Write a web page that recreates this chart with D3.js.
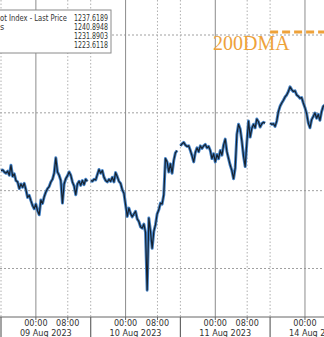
<!DOCTYPE html>
<html>
<head>
<meta charset="utf-8">
<script src="https://cdn.jsdelivr.net/npm/d3@7"></script>
<style>
  body { margin: 0; background: #fff; }
  svg { display: block; }
</style>
</head>
<body>
<svg id="chart"></svg>
<script>
// sessions (open -> close), prices sampled every 25 minutes from the open
const sessionOpens  = ["2023-08-08 15:15", "2023-08-09 15:15", "2023-08-10 15:15", "2023-08-13 15:15"];
const sessionCloses = ["2023-08-09 13:45", "2023-08-10 13:45", "2023-08-11 13:45", "2023-08-14 13:45"];
const stepMinutes = 25;

const pricesAug09 = [1231.29, 1231.33, 1231.20, 1231.12, 1231.25, 1230.99, 1231.63, 1230.92, 1231.08, 1230.65,
  1230.56, 1230.13, 1230.43, 1230.22, 1230.47, 1230.06, 1229.57, 1229.70, 1229.36, 1229.05,
  1228.84, 1229.14, 1228.71, 1228.45, 1229.40, 1229.18, 1229.61, 1229.91, 1230.13, 1230.26,
  1230.56, 1230.73, 1231.12, 1232.11, 1231.20, 1230.99, 1230.65, 1229.20, 1230.43, 1230.77,
  1230.95, 1231.20, 1230.99, 1230.56, 1230.30, 1229.74, 1230.43, 1230.60, 1230.34, 1230.65,
  1230.39, 1230.73, 1230.60];
const pricesAug10 = [1230.65, 1230.60, 1230.73, 1230.69, 1231.03, 1231.36, 1231.12, 1231.29, 1230.86, 1230.65,
  1230.56, 1230.73, 1230.60, 1230.86, 1230.56, 1231.16, 1230.90, 1230.60, 1230.47, 1230.06,
  1229.83, 1229.10, 1228.34, 1228.88, 1228.54, 1228.32, 1228.50, 1228.67, 1228.19, 1228.02,
  1227.68, 1227.59, 1227.85, 1227.33, 1223.61, 1228.24, 1227.38, 1226.30, 1227.38, 1227.81,
  1228.50, 1228.77, 1229.20, 1229.14, 1229.74, 1232.06, 1231.85, 1231.20, 1231.72, 1231.12,
  1231.94, 1232.43, 1232.58];
const pricesAug11 = [1232.88, 1233.01, 1233.10, 1232.93, 1232.84, 1232.88, 1232.58, 1232.24, 1231.85, 1232.45,
  1232.75, 1232.50, 1232.88, 1232.71, 1232.88, 1232.97, 1232.75, 1232.84, 1232.58, 1232.06,
  1232.37, 1231.85, 1232.32, 1232.06, 1232.58, 1232.28, 1232.93, 1233.31, 1232.50, 1232.06,
  1231.63, 1231.29, 1230.77, 1231.46, 1233.61, 1234.26, 1233.96, 1233.18, 1232.22, 1231.55,
  1233.08, 1234.47, 1233.44, 1234.00, 1234.26, 1234.04, 1234.60, 1234.43, 1234.09, 1234.30,
  1234.39, 1234.34];
const pricesAug14 = [1234.34, 1234.26, 1234.30, 1234.13, 1234.47, 1235.08, 1235.42, 1235.63, 1235.81, 1236.02,
  1236.15, 1236.37, 1236.67, 1236.49, 1236.37, 1236.41, 1236.15, 1236.06, 1235.94, 1235.98,
  1235.63, 1235.33, 1234.95, 1234.34, 1234.04, 1234.56, 1234.77, 1234.99, 1234.65, 1234.90,
  1234.52, 1235.08, 1235.42, 1235.51];

const dayDates = ["2023-08-09", "2023-08-10", "2023-08-11", "2023-08-14"];
const dayLabels = ["09 Aug 2023", "10 Aug 2023", "11 Aug 2023", "14 Aug 2023"];
const priceGrid = [1225, 1230, 1235, 1240];
const dma200 = 1240.2;

// legend as it shows inside the cropped picture
const legendNames = ["ot Index - Last Price", "s"];
const legendValues = ["1237.6189", "1240.8948", "1231.8903", "1223.6118"];

const W = 324, H = 337;
const axisY = 317;
const dayW = 89.7;
const parse = d3.timeParse("%Y-%m-%d %H:%M");
const uiFont = "Tahoma, 'DejaVu Sans Condensed', 'Liberation Sans Narrow', sans-serif";

const svg = d3.select("#chart").attr("width", W).attr("height", H);

// polylinear time scale that squeezes out the closed hours
const xDomain = [], xRange = [];
sessionOpens.forEach((o, k) => {
  xDomain.push(parse(o), parse(sessionCloses[k]));
  xRange.push(1 + k * dayW, 1 + (k + 1) * dayW);
});
const x = d3.scaleTime().domain(xDomain).range(xRange);
const y = d3.scaleLinear().domain([1225, 1240]).range([268.5, 35]);

const sessions = [pricesAug09, pricesAug10, pricesAug11, pricesAug14].map((arr, k) => {
  const t0 = parse(sessionOpens[k]);
  return arr.map((p, i) => ({ t: d3.timeMinute.offset(t0, i * stepMinutes), p }));
});

const grid = svg.append("g");

// horizontal dotted gridlines
grid.selectAll("line.h").data(priceGrid).enter().append("line")
  .attr("x1", 0).attr("x2", W)
  .attr("y1", d => y(d)).attr("y2", d => y(d))
  .attr("stroke", "#a0a0a0").attr("stroke-dasharray", "2,2");

// session separators and 08:00 lines (dotted)
const eightAM = dayDates.map(d => parse(d + " 08:00"));
const midnights = dayDates.map(d => parse(d + " 00:00"));
grid.selectAll("line.dot").data(sessionOpens.map(parse).concat(eightAM)).enter().append("line")
  .attr("x1", d => x(d)).attr("x2", d => x(d))
  .attr("y1", 0).attr("y2", axisY)
  .attr("stroke", "#b0b0b0").attr("stroke-dasharray", "1.5,2");

// midnight lines (solid)
grid.selectAll("line.mid").data(midnights).enter().append("line")
  .attr("x1", d => x(d)).attr("x2", d => x(d))
  .attr("y1", 0).attr("y2", axisY)
  .attr("stroke", "#8c8c8c");

// price line: blue band with a dark core
const line = d3.line().x(d => x(d.t)).y(d => y(d.p));
const lines = svg.append("g").attr("fill", "none").attr("stroke-linejoin", "round");
lines.selectAll("path.blue").data(sessions).enter().append("path")
  .attr("d", line).attr("stroke", "#4684c8").attr("stroke-width", 3);
lines.selectAll("path.dark").data(sessions).enter().append("path")
  .attr("d", line).attr("stroke", "#16212d").attr("stroke-width", 1.2);

// 200DMA
const dmaStart = parse(sessionOpens[3]);
svg.append("line")
  .attr("x1", x(dmaStart)).attr("x2", W + 10)
  .attr("y1", y(dma200)).attr("y2", y(dma200))
  .attr("stroke", "#eea23a").attr("stroke-width", 3).attr("stroke-dasharray", "8,4");
svg.append("text")
  .attr("x", x(dmaStart) - 57).attr("y", y(dma200) + 18)
  .attr("font-family", "'Liberation Serif', 'Times New Roman', serif")
  .attr("font-size", 20).attr("fill", "#eea23a")
  .text("200DMA");

// legend box
const leg = svg.append("g").attr("font-family", uiFont)
  .attr("font-size", 9).attr("fill", "#333");
leg.append("rect").attr("x", -5).attr("y", 10).attr("width", 116).attr("height", 43)
  .attr("fill", "#fff").attr("stroke", "#8a8a8a");
leg.selectAll("text.n").data(legendNames).enter().append("text")
  .attr("x", 0).attr("y", (d, i) => 21 + i * 9)
  .attr("textLength", (d, i) => i === 0 ? 67 : null)
  .attr("lengthAdjust", "spacingAndGlyphs")
  .text(d => d);
leg.selectAll("text.v").data(legendValues).enter().append("text")
  .attr("x", 108).attr("y", (d, i) => 21 + i * 9)
  .attr("text-anchor", "end")
  .attr("textLength", 34).attr("lengthAdjust", "spacingAndGlyphs")
  .text(d => d);

// bottom axis
const ax = svg.append("g").attr("font-family", uiFont)
  .attr("font-size", 9).attr("fill", "#333");
ax.append("rect").attr("x", 0).attr("y", axisY).attr("width", W).attr("height", H - axisY).attr("fill", "#fff");
ax.append("line").attr("x1", 0).attr("x2", W).attr("y1", axisY).attr("y2", axisY).attr("stroke", "#666");
ax.selectAll("line.sep").data(sessionOpens.map(parse)).enter().append("line")
  .attr("x1", d => x(d)).attr("x2", d => x(d)).attr("y1", axisY).attr("y2", H)
  .attr("stroke", "#666").attr("stroke-width", 1.2);
const tickTimes = midnights.concat(eightAM);
ax.selectAll("line.tk").data(tickTimes).enter().append("line")
  .attr("x1", d => x(d)).attr("x2", d => x(d)).attr("y1", axisY).attr("y2", axisY + 3)
  .attr("stroke", "#666");
ax.selectAll("text.hr").data(tickTimes).enter().append("text")
  .attr("x", d => x(d)).attr("y", 326).attr("text-anchor", "middle")
  .text(d => d3.timeFormat("%H:%M")(d));
ax.selectAll("text.day").data(dayLabels).enter().append("text")
  .attr("x", (d, k) => (x(parse(sessionOpens[k])) + x(parse(sessionCloses[k]))) / 2)
  .attr("y", 336).attr("text-anchor", "middle")
  .text(d => d);
</script>
</body>
</html>
